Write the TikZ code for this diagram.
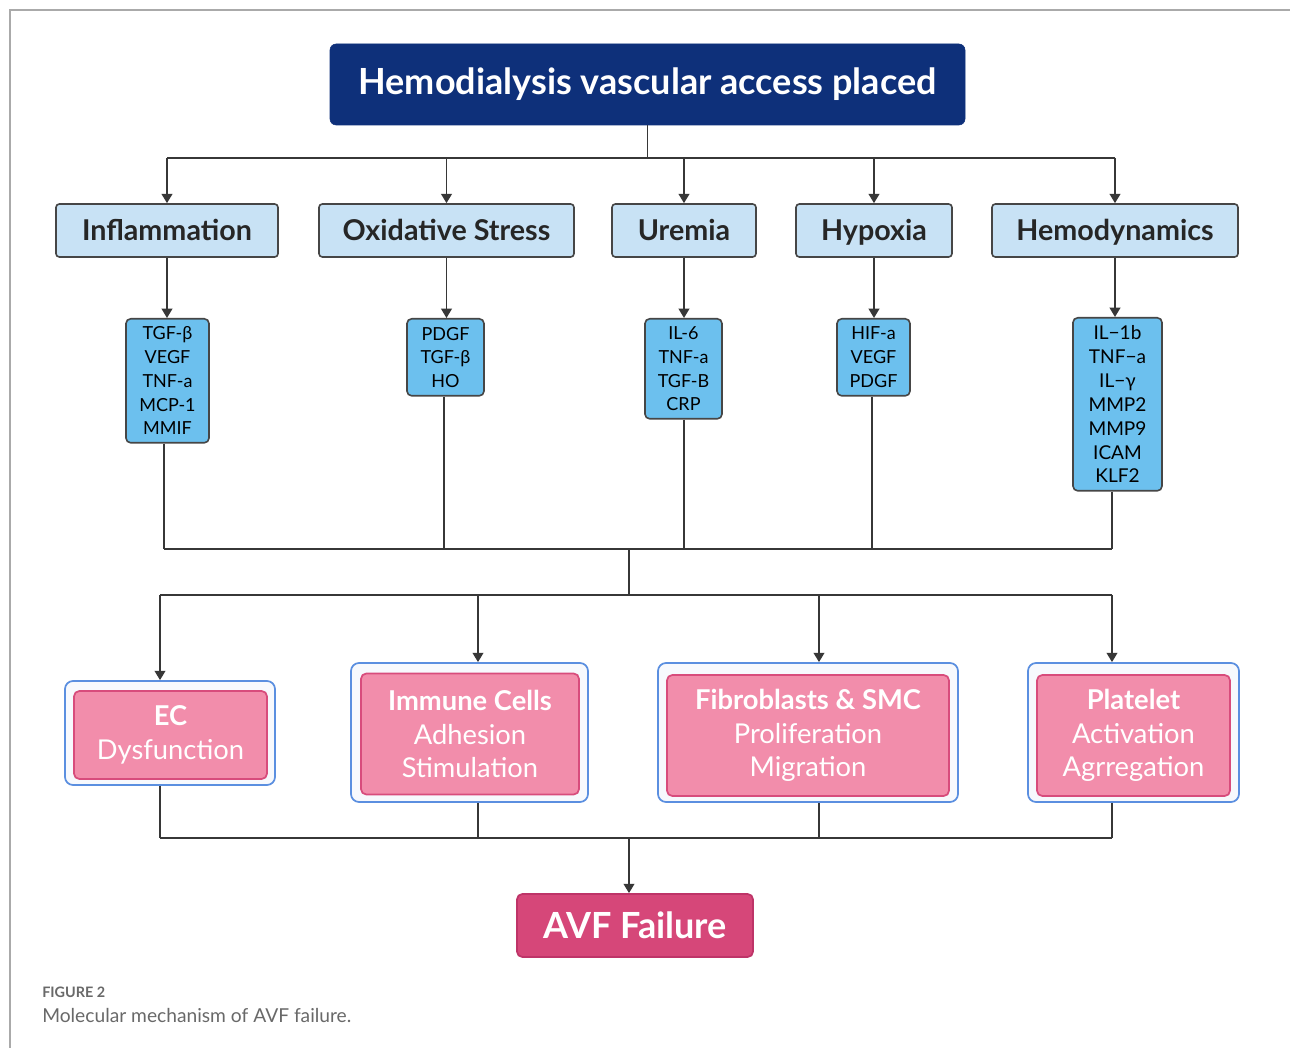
\documentclass[tikz,border=0pt]{standalone}
\usepackage{fontspec}
\setmainfont{Lato}
\usetikzlibrary{arrows.meta,calc}
\definecolor{navy}{RGB}{14,48,122}
\definecolor{catfill}{RGB}{200,226,245}
\definecolor{markfill}{RGB}{108,192,238}
\definecolor{boxline}{RGB}{70,70,70}
\definecolor{outfill}{RGB}{247,249,253}
\definecolor{outline}{RGB}{91,143,224}
\definecolor{pinkfill}{RGB}{242,141,171}
\definecolor{pinkline}{RGB}{216,76,124}
\definecolor{avffill}{RGB}{214,71,121}
\definecolor{avfline}{RGB}{190,52,104}
\definecolor{conn}{RGB}{55,55,55}
\definecolor{framegray}{RGB}{170,170,170}
\definecolor{capgray}{RGB}{105,105,105}
\begin{document}
\begin{tikzpicture}[x=0.75pt,y=-0.75pt,
  titlebox/.style={fill=navy,draw=navy,rounded corners=4.5pt,minimum width=635*0.75pt,minimum height=81*0.75pt,inner sep=0pt,text=white,font=\fontsize{27}{30}\selectfont\bfseries},
  catbox/.style={fill=catfill,draw=boxline,line width=1.2pt,rounded corners=2.5pt,minimum height=53*0.75pt,inner sep=0pt,text height=15.4pt,text depth=0pt,text={black!85},font=\fontsize{21.5}{24}\selectfont\bfseries},
  markbox/.style={fill=markfill,draw=boxline,line width=1.2pt,rounded corners=3.5pt,anchor=north,inner sep=0pt,align=center,text=black,font=\fontsize{13.5}{17.8}\selectfont},
  outbox/.style={fill=outfill,draw=outline,line width=1.3pt,rounded corners=6pt,inner sep=0pt},
  pinkbox/.style={fill=pinkfill,draw=pinkline,line width=1.3pt,rounded corners=4pt,inner sep=0pt,align=center,text=white,font=\fontsize{20.5}{25.2}\selectfont},
  avfbox/.style={fill=avffill,draw=avfline,line width=1.3pt,rounded corners=4pt,minimum width=236*0.75pt,minimum height=63*0.75pt,inner sep=0pt,text=white,font=\fontsize{27}{30}\selectfont\bfseries},
  line/.style={draw=conn,line width=1.4pt},
  arr/.style={line,-{Triangle[width=8pt,length=7pt]}}]
\useasboundingbox (0,0) rectangle (1290,1048);
\fill[white] (0,0) rectangle (1290,1048);
% frame
\draw[framegray,line width=1pt] (10,1048) -- (10,10) -- (1290,10);

% title
\node[titlebox] (title) at (647.5,84.5) {Hemodialysis vascular access placed};

% categories
\node[catbox,minimum width=222*0.75pt] (cI) at (167,230.5) {Inflammation};
\node[catbox,minimum width=255*0.75pt] (cO) at (446.5,230.5) {Oxidative Stress};
\node[catbox,minimum width=144*0.75pt] (cU) at (684,230.5) {Uremia};
\node[catbox,minimum width=156*0.75pt] (cH) at (874,230.5) {Hypoxia};
\node[catbox,minimum width=246*0.75pt] (cD) at (1115,230.5) {Hemodynamics};

% markers
\node[markbox,minimum width=83*0.75pt,minimum height=124*0.75pt] (mI) at (167.5,318) {TGF-β\\VEGF\\TNF-a\\MCP-1\\MMIF};
\node[markbox,minimum width=77*0.75pt,minimum height=77*0.75pt] (mO) at (445.5,318) {PDGF\\TGF-β\\HO};
\node[markbox,minimum width=77*0.75pt,minimum height=100*0.75pt] (mU) at (683.5,318) {IL-6\\TNF-a\\TGF-B\\CRP};
\node[markbox,minimum width=73*0.75pt,minimum height=77*0.75pt] (mH) at (873.5,318) {HIF-a\\VEGF\\PDGF};
\node[markbox,minimum width=89*0.75pt,minimum height=173*0.75pt,font=\fontsize{14.3}{17.9}\selectfont] (mD) at (1117.5,317) {IL−1b\\TNF−a\\IL−γ\\MMP2\\MMP9\\ICAM\\KLF2};

% outcomes
\node[outbox,minimum width=210*0.75pt,minimum height=104*0.75pt] (oE) at (170,733) {};
\node[pinkbox,minimum width=193*0.75pt,minimum height=88*0.75pt] (pE) at (170.5,735) {\textbf{EC}\\Dysfunction};
\node[outbox,minimum width=237*0.75pt,minimum height=139*0.75pt] (oI) at (469.5,732.5) {};
\node[pinkbox,minimum width=218*0.75pt,minimum height=121*0.75pt] (pI) at (470,734) {\textbf{Immune Cells}\\Adhesion\\Stimulation};
\node[outbox,minimum width=300*0.75pt,minimum height=139*0.75pt] (oF) at (808,732.5) {};
\node[pinkbox,minimum width=282*0.75pt,minimum height=121*0.75pt] (pF) at (808,735.5) {\textbf{Fibroblasts \& SMC}\\Proliferation\\Migration};
\node[outbox,minimum width=211*0.75pt,minimum height=139*0.75pt] (oP) at (1133.5,732.5) {};
\node[pinkbox,minimum width=193*0.75pt,minimum height=121*0.75pt] (pP) at (1133.5,735.5) {\textbf{Platelet}\\Activation\\Agrregation};

% final
\node[avfbox] (avf) at (635,925.5) {AVF Failure};

% caption
\node[anchor=base west,inner sep=0pt,text=capgray,font=\fontsize{10.8}{12}\selectfont\bfseries] (fig) at (42,997) {FIGURE 2};
\node[anchor=base west,inner sep=0pt,text=capgray,font=\fontsize{14.4}{16}\selectfont] (cap) at (42,1022) {Molecular mechanism of AVF failure.};

% bus coordinates
\coordinate (b1) at (648,158);
\coordinate (b2) at (629,549);
\coordinate (b3) at (629,595);
\coordinate (b4) at (629,838);
\coordinate (x1) at (160,0);
\coordinate (x2) at (478,0);
\coordinate (x3) at (819,0);
\coordinate (x4) at (1112,0);

% title to categories
\draw[line] (title.south) -- (title.south |- b1);
\draw[line] (cI.north |- b1) -- (cD.north |- b1);
\foreach \n in {cI,cO,cU,cH,cD} {\draw[arr] (\n.north |- b1) -- (\n.north);}

% categories to markers
\foreach \c/\m in {cI/mI,cO/mO,cU/mU,cH/mH,cD/mD} {\draw[arr] (\c.south) -- (\c.south |- \m.north);}

% markers to bus
\coordinate (l1) at ($(mI.south)+(-3.5,0)$);
\coordinate (l2) at ($(mO.south)+(-1.5,0)$);
\coordinate (l3) at ($(mU.south)+(0.5,0)$);
\coordinate (l4) at ($(mH.south)+(-1.5,0)$);
\coordinate (l5) at ($(mD.south)+(-5.5,0)$);
\foreach \l in {l1,l2,l3,l4,l5} {\draw[line] (\l) -- (\l |- b2);}
\draw[line] (l1 |- b2) -- (l5 |- b2);
\draw[line] (b2) -- (b3);
\draw[line] (x1 |- b3) -- (x4 |- b3);
\draw[arr] (x1 |- b3) -- (x1 |- oE.north);
\draw[arr] (x2 |- b3) -- (x2 |- oI.north);
\draw[arr] (x3 |- b3) -- (x3 |- oF.north);
\draw[arr] (x4 |- b3) -- (x4 |- oP.north);

% outcomes to final
\draw[line] (x1 |- oE.south) -- (x1 |- b4);
\draw[line] (x2 |- oI.south) -- (x2 |- b4);
\draw[line] (x3 |- oF.south) -- (x3 |- b4);
\draw[line] (x4 |- oP.south) -- (x4 |- b4);
\draw[line] (x1 |- b4) -- (x4 |- b4);
\draw[arr] (b4) -- (b4 |- avf.north);
\end{tikzpicture}
\end{document}
